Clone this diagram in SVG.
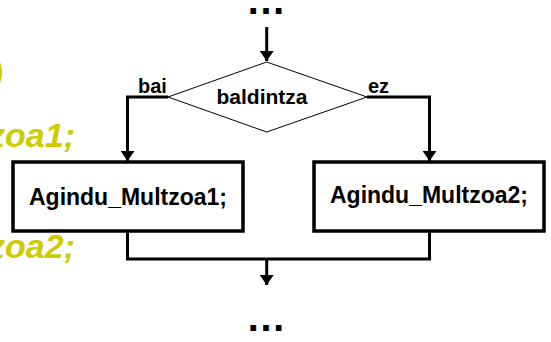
<svg xmlns="http://www.w3.org/2000/svg" width="551" height="342" viewBox="0 0 551 342">
<style>
.bg{font-family:"Liberation Sans",Arial,sans-serif;font-weight:bold;font-style:italic;font-size:34px;fill:#CCCC00}
.t{font-family:"Liberation Sans",Arial,sans-serif;font-weight:bold;fill:#000}
.box{fill:#fff;stroke:#000;stroke-width:3.5}
.dia{fill:#fff;stroke:#000;stroke-width:1}
.c{fill:none;stroke:#000;stroke-width:3}
</style>
<defs>
<marker id="ah" markerUnits="userSpaceOnUse" markerWidth="20" markerHeight="14" refX="13" refY="9" orient="auto" viewBox="0 0 14 18">
<path d="M0,0 L13,9 L0,18 Z" fill="#000"/>
</marker>
</defs>
<g id="background-text">
<text class="bg" x="3" y="85" text-anchor="end">)</text>
<text class="bg" x="75" y="147" text-anchor="end">zoa1;</text>
<text class="bg" x="75" y="258" text-anchor="end">zoa2;</text>
</g>
<g id="dots-top"><text class="t" x="266" y="14" font-size="40" text-anchor="middle">…</text></g>
<g id="connectors">
<path class="c" d="M266.7,27 V61" marker-end="url(#ah)"/>
<path class="c" d="M168,97 H127.5 V161" marker-end="url(#ah)"/>
<path class="c" d="M367,97 H429.5 V161" marker-end="url(#ah)"/>
<path class="c" d="M127.5,231 V259 H429.5 V231"/>
<path class="c" d="M266.7,259 V285" marker-end="url(#ah)"/>
</g>
<g id="decision">
<polygon class="dia" points="266.7,62 367,97 266.7,132 168,97"/>
<text class="t" x="262" y="104" font-size="21" text-anchor="middle">baldintza</text>
</g>
<g id="label-bai"><text class="t" x="138" y="93" font-size="20">bai</text></g>
<g id="label-ez"><text class="t" x="368" y="93" font-size="20">ez</text></g>
<g id="box1">
<rect class="box" x="13" y="162" width="230" height="69"/>
<text class="t" x="128" y="205" font-size="23" text-anchor="middle">Agindu_Multzoa1;</text>
</g>
<g id="box2">
<rect class="box" x="314" y="162" width="230" height="69"/>
<text class="t" x="429" y="203" font-size="23" text-anchor="middle">Agindu_Multzoa2;</text>
</g>
<g id="dots-bottom"><text class="t" x="266" y="331" font-size="40" text-anchor="middle">…</text></g>
</svg>
